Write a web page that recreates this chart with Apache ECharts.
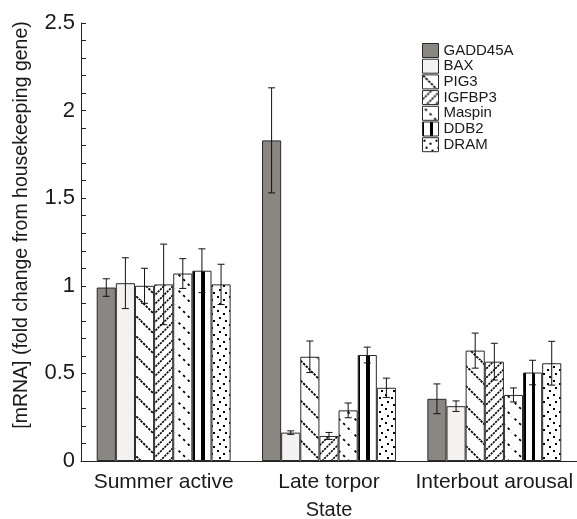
<!DOCTYPE html>
<html>
<head>
<meta charset="utf-8">
<script src="https://cdn.jsdelivr.net/npm/echarts@6/dist/echarts.min.js"></script>
<style>html,body{margin:0;padding:0;background:#fff;}#c{width:577px;height:519px;}</style>
</head>
<body>
<div id="c"></div>
<script>
// ---- data ----
var categories = ['Summer active', 'Late torpor', 'Interbout arousal'];
var genes = ['GADD45A', 'BAX', 'PIG3', 'IGFBP3', 'Maspin', 'DDB2', 'DRAM'];
var GADD45A = [0.99, 1.83, 0.355];
var BAX     = [1.015, 0.162, 0.313];
var PIG3    = [1.00, 0.595, 0.63];
var IGFBP3  = [1.008, 0.143, 0.567];
var Maspin  = [1.07, 0.289, 0.377];
var DDB2    = [1.086, 0.605, 0.505];
var DRAM    = [1.008, 0.418, 0.558];
var GADD45A_err = [0.05, 0.30, 0.085];
var BAX_err     = [0.145, 0.01, 0.03];
var PIG3_err    = [0.10, 0.09, 0.10];
var IGFBP3_err  = [0.23, 0.02, 0.105];
var Maspin_err  = [0.085, 0.042, 0.04];
var DDB2_err    = [0.125, 0.045, 0.07];
var DRAM_err    = [0.115, 0.055, 0.125];
var yTicks = [0, 0.5, 1, 1.5, 2, 2.5];

var values = [GADD45A, BAX, PIG3, IGFBP3, Maspin, DDB2, DRAM];
var errors = [GADD45A_err, BAX_err, PIG3_err, IGFBP3_err, Maspin_err, DDB2_err, DRAM_err];

// ---- fill patterns (style only) ----
function tile(w, h, draw) {
  var c = document.createElement('canvas');
  c.width = w; c.height = h;
  var ctx = c.getContext('2d');
  ctx.fillStyle = '#fff'; ctx.fillRect(0, 0, w, h);
  ctx.strokeStyle = '#000'; ctx.fillStyle = '#000';
  draw(ctx, w, h);
  return { image: c, repeat: 'repeat' };
}
var patPIG3 = tile(20, 20, function (ctx, w, h) {
  ctx.lineWidth = 1.8;
  ctx.setLineDash([2.5, 1.2]);
  [-w, 0, w].forEach(function (o) {
    ctx.beginPath(); ctx.moveTo(o - 2, -2); ctx.lineTo(o + w + 2, h + 2); ctx.stroke();
  });
});
var patIGFBP3 = tile(9, 9, function (ctx, w, h) {
  ctx.lineWidth = 1.6;
  ctx.setLineDash([2.2, 1]);
  [-w, 0, w].forEach(function (o) {
    ctx.beginPath(); ctx.moveTo(o - 2, h + 2); ctx.lineTo(o + w + 2, -2); ctx.stroke();
  });
});
var patMaspin = tile(16, 16, function (ctx, w, h) {
  ctx.lineWidth = 1.8;
  ctx.setLineDash([2.5, 4]);
  [-w, 0, w].forEach(function (o) {
    ctx.beginPath(); ctx.moveTo(o - 2, -2); ctx.lineTo(o + w + 2, h + 2); ctx.stroke();
  });
});
var patDRAM = tile(12, 14, function (ctx) {
  [[1, 2], [7, 5], [3, 9], [9, 12]].forEach(function (p) { ctx.fillRect(p[0], p[1], 2, 2); });
});
var gradDDB2 = {
  type: 'linear', x: 0, y: 0, x2: 1, y2: 0,
  colorStops: [
    { offset: 0, color: '#000' }, { offset: 0.13, color: '#000' },
    { offset: 0.13, color: '#fff' }, { offset: 0.45, color: '#fff' },
    { offset: 0.45, color: '#000' }, { offset: 0.65, color: '#000' },
    { offset: 0.65, color: '#fff' }, { offset: 1, color: '#fff' }
  ]
};
var fills = ['#8a8682', '#f3f2f0', patPIG3, patIGFBP3, patMaspin, gradDDB2, patDRAM];

var GAP = 0.19; // bar category gap
var series = [];
genes.forEach(function (g, i) {
  series.push({
    name: g, type: 'bar', data: values[i],
    barGap: '0%', barCategoryGap: (GAP * 100) + '%',
    itemStyle: { color: fills[i], borderColor: '#2a2a2a', borderWidth: 1 },
    emphasis: { disabled: true }, z: 2
  });
});
genes.forEach(function (g, i) {
  series.push({
    name: g + ' err', type: 'custom', z: 5, silent: true,
    data: categories.map(function (c, k) { return [k, values[i][k], errors[i][k]]; }),
    renderItem: function (params, api) {
      var k = api.value(0), v = api.value(1), e = api.value(2);
      var c = api.coord([k, v]);
      var band = api.size([1, 0])[0];
      var gw = band * (1 - GAP);
      var bw = gw / genes.length;
      var x = c[0] - gw / 2 + bw * (i + 0.5);
      var yt = api.coord([k, v + e])[1];
      var yb = api.coord([k, v - e])[1];
      var cw = 3.5;
      var st = { stroke: '#111', lineWidth: 1 };
      return {
        type: 'group', children: [
          { type: 'line', shape: { x1: x, y1: yt, x2: x, y2: yb }, style: st },
          { type: 'line', shape: { x1: x - cw, y1: yt, x2: x + cw, y2: yt }, style: st },
          { type: 'line', shape: { x1: x - cw, y1: yb, x2: x + cw, y2: yb }, style: st }
        ]
      };
    }
  });
});

var chart = echarts.init(document.getElementById('c'), null, { renderer: 'canvas' });
chart.setOption({
  animation: false,
  backgroundColor: '#fff',
  textStyle: { fontFamily: 'Liberation Sans, Arial, sans-serif' },
  grid: { left: 81, right: 0, top: 23, bottom: 58, containLabel: false, outerBoundsMode: 'none' },
  legend: {
    data: genes, orient: 'vertical', left: 417, top: 38,
    itemWidth: 16, itemHeight: 14, itemGap: 0.7, icon: 'rect',
    itemStyle: { borderColor: '#2a2a2a', borderWidth: 1 },
    textStyle: { fontSize: 15, color: '#1a1a1a', padding: [0, 0, 0, 0], lineHeight: 14 },
    selectedMode: false
  },
  xAxis: {
    type: 'category', data: categories,
    axisLine: { lineStyle: { color: '#222', width: 1 } },
    axisTick: { show: false },
    axisLabel: { fontSize: 21, color: '#1a1a1a', margin: 11, interval: 0 },
    name: 'State', nameLocation: 'middle', nameGap: 39,
    nameTextStyle: { fontSize: 20, color: '#1a1a1a' }
  },
  yAxis: {
    type: 'value', min: 0, max: 2.5, interval: 0.5,
    axisLine: { show: true, lineStyle: { color: '#222', width: 1 } },
    axisTick: { show: true, inside: true, length: 5, lineStyle: { color: '#222' } },
    minorTick: { show: true, splitNumber: 5, length: 5, lineStyle: { color: '#222' } },
    splitLine: { show: false },
    axisLabel: {
      fontSize: 22, color: '#1a1a1a', margin: 6,
      formatter: function (v) { return yTicks.indexOf(v) >= 0 ? String(v) : ''; }
    },
    name: '[mRNA] (fold change from housekeeping gene)', nameLocation: 'middle', nameGap: 49,
    nameTextStyle: { fontSize: 19.5, color: '#1a1a1a', padding: [0, 0, 0, 34] }
  },
  series: series
});
</script>
</body>
</html>
